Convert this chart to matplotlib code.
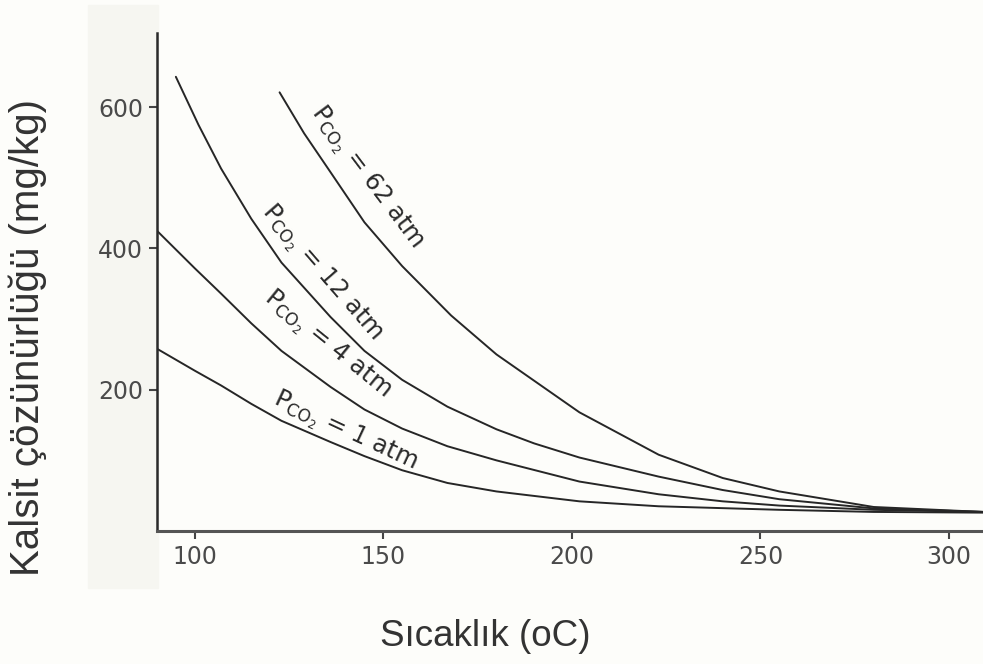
import matplotlib
matplotlib.use("Agg")
import matplotlib.pyplot as plt
from matplotlib.patches import Rectangle

plt.rcParams["mathtext.fontset"] = "dejavusans"

# Temperature (oC) and calcite solubility (mg/kg)
t_1atm = [90, 100, 107, 115, 123, 136, 145, 155, 167, 180, 202, 223, 255, 280, 309]
v_1atm = [258, 227, 206, 180, 156, 126, 106, 86, 68, 56, 42, 35, 30, 27, 26]

t_4atm = [90, 100, 107, 115, 123, 136, 145, 155, 167, 180, 202, 223, 240, 255, 280, 309]
v_4atm = [425, 372, 336, 294, 255, 204, 172, 145, 120, 100, 70, 52, 42, 36, 30, 27]

t_12atm = [95, 101, 107, 115, 123, 136, 145, 155, 167, 180, 190, 202, 223, 240, 255, 280, 309]
v_12atm = [643, 575, 513, 442, 380, 303, 255, 214, 176, 144, 124, 104, 77, 58, 45, 32, 27]

t_62atm = [122.5, 129, 136, 145, 155, 168, 180, 202, 223, 240, 255, 280, 309]
v_62atm = [621, 563, 508, 437, 375, 305, 250, 168, 108, 75, 56, 34, 27]

series = [
    (t_1atm, v_1atm),
    (t_4atm, v_4atm),
    (t_12atm, v_12atm),
    (t_62atm, v_62atm),
]

labels = ["1", "4", "12", "62"]
label_pos = [(139.7, 140, -25), (134.9, 264, -39), (133.6, 365, -49), (145.5, 500, -53)]

x_ticks = [100, 150, 200, 250, 300]
y_ticks = [200, 400, 600]

fig = plt.figure(figsize=(9.83, 6.64), dpi=100, facecolor="#fdfdfa")
# light scanned-paper strip on the left
strip = Rectangle((88 / 983, 1 - 588 / 664), 70 / 983, 583 / 664,
                  transform=fig.transFigure, color="#f6f6f1", zorder=-5)
fig.patches.append(strip)

ax = fig.add_axes([157 / 983, 1 - 531 / 664, 1 - 157 / 983, (531 - 33) / 664], zorder=2)
ax.set_facecolor("none")

for t, v in series:
    ax.plot(t, v, color="#262626", lw=1.4, solid_capstyle="round", solid_joinstyle="round")

for lab, (x, y, rot) in zip(labels, label_pos):
    ax.text(x, y, r"P$_{\mathrm{CO_2}}$ = " + lab + " atm", rotation=rot,
            rotation_mode="anchor", ha="center", va="center",
            fontsize=17.5, color="#2a2a2a", family="DejaVu Sans")

ax.set_xlim(90, 309)
ax.set_ylim(0, 705)
ax.set_xticks(x_ticks)
ax.set_yticks(y_ticks)
for s in ["top", "right"]:
    ax.spines[s].set_visible(False)
ax.spines["left"].set_linewidth(1.8)
ax.spines["bottom"].set_linewidth(2.2)
ax.spines["left"].set_color("#2a2a2a")
ax.spines["bottom"].set_color("#555555")
ax.tick_params(axis="both", direction="out", length=6, width=1.5, color="#444444",
               labelsize=17, labelcolor="#4a4a4a", pad=4)
for lbl in ax.get_xticklabels() + ax.get_yticklabels():
    lbl.set_family("DejaVu Sans")

fig.text(28 / 983, 1 - 337 / 664, "Kalsit çözünürlüğü (mg/kg)", rotation=90,
         ha="center", va="center", fontsize=29, color="#333333", family="Liberation Sans")
fig.text(485 / 983, 1 - 636 / 664, "Sıcaklık (oC)", ha="center", va="center",
         fontsize=26.5, color="#333333", family="Liberation Sans")

fig.savefig("out.png", dpi=100, facecolor=fig.get_facecolor())
